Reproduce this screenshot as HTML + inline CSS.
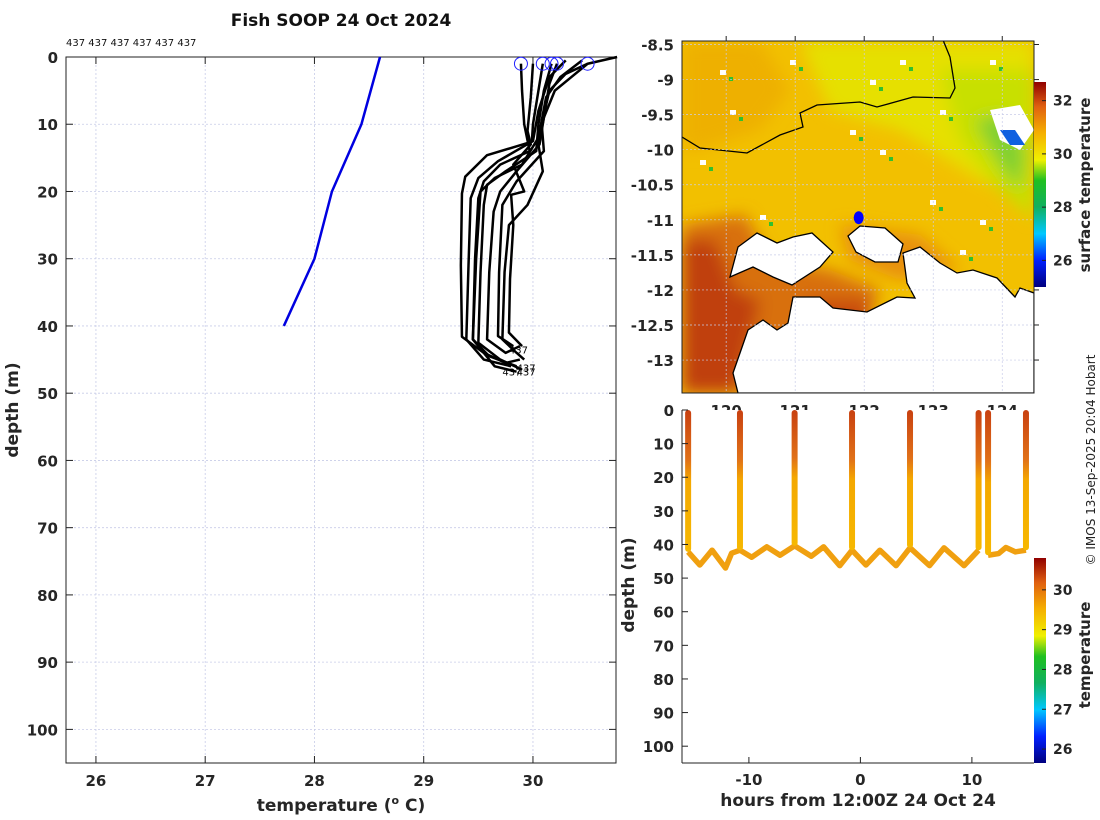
<!DOCTYPE html>
<html><head><meta charset="utf-8"><style>
html,body{margin:0;padding:0;background:#fff;}
svg{display:block;font-family:"DejaVu Sans","Liberation Sans",sans-serif;}
.tk{font-size:15px;font-weight:bold;fill:#262626;}
.al{font-size:17px;font-weight:bold;fill:#262626;}
</style></head><body>
<svg id="s" width="1100" height="820" viewBox="0 0 1100 820">
<defs>
<linearGradient id="jet1" x1="0" y1="1" x2="0" y2="0">
<stop offset="0" stop-color="#00007f"/><stop offset="0.13" stop-color="#0020ff"/><stop offset="0.26" stop-color="#00c8ff"/><stop offset="0.39" stop-color="#10b060"/><stop offset="0.52" stop-color="#20c020"/><stop offset="0.62" stop-color="#f0f000"/><stop offset="0.75" stop-color="#f5b000"/><stop offset="0.88" stop-color="#e06010"/><stop offset="1" stop-color="#900000"/>
</linearGradient>
<linearGradient id="castg" x1="0" y1="0" x2="0" y2="1">
<stop offset="0" stop-color="#c84010"/><stop offset="0.35" stop-color="#e07018"/><stop offset="0.5" stop-color="#f4a800"/><stop offset="1" stop-color="#f6b800"/>
</linearGradient>
<filter id="bl" x="-20%" y="-20%" width="140%" height="140%"><feGaussianBlur stdDeviation="8"/></filter>
<clipPath id="mapclip"><rect x="682" y="41" width="352" height="352"/></clipPath>
</defs>
<text x="341" y="26" text-anchor="middle" style="font-size:17px;font-weight:bold" fill="#111">Fish SOOP 24 Oct 2024</text>
<text x="66" y="46" style="font-size:10px" fill="#111">437 437 437 437 437 437</text>
<g id="left"></g>
<g id="map"></g>
<g id="bot"></g>
<text transform="translate(1095,460) rotate(-90)" text-anchor="middle" style="font-size:12px" fill="#222">© IMOS 13-Sep-2025 20:04 Hobart</text>
</svg>
<script>
// ---------- left profile data ----------
const climTemp=[28.6,28.43,28.16,28.0,27.72];
const climDepth=[0,10,20,30,40];
const profiles=[
[[30.09,1],[30.06,4],[30.0,10],[29.99,12.6],[29.58,14.6],[29.38,17.8],[29.35,20.3],[29.34,31],[29.35,41.6],[29.55,44],[29.75,45.5],[29.88,45]],
[[29.89,1],[29.9,5],[29.92,10],[29.97,14],[29.7,16],[29.55,18.5],[29.5,21],[29.47,30],[29.45,42],[29.6,44.5],[29.85,46]],
[[30.17,1],[30.1,5],[30.05,10],[30.03,14],[29.75,17],[29.58,19],[29.55,22],[29.52,32],[29.5,42.5],[29.7,45],[29.9,46.5]],
[[30.22,1],[30.15,4],[30.1,9],[30.06,13],[29.85,17],[29.7,20],[29.64,23],[29.6,32],[29.58,42],[29.75,44],[29.88,43]],
[[30.5,1],[30.35,3],[30.2,5],[30.1,9],[30.05,13],[30.09,17],[29.95,22],[29.78,25],[29.74,32],[29.72,42],[29.85,44],[29.92,45]],
[[30.77,0],[30.5,1],[30.3,2.5],[30.15,5],[30.08,10],[30.1,14],[29.85,18.5],[29.72,22],[29.69,32],[29.68,41.5],[29.82,43]],
[[30.45,0.5],[30.25,3],[30.12,6],[30.05,12],[29.9,16],[29.65,18],[29.52,20],[29.48,30],[29.45,42],[29.65,46],[29.85,46.8]],
[[30.3,0.5],[30.15,3],[30.05,8],[30.0,12.5],[29.68,15.5],[29.5,18],[29.43,21],[29.41,31],[29.39,42],[29.55,45],[29.8,46]],
[[30.0,1],[29.98,6],[29.95,11],[29.98,13],[29.82,16],[29.92,20],[29.8,20.5],[29.82,25],[29.79,33],[29.78,41],[29.9,43]]
];
const surfTemps=[29.89,30.09,30.17,30.22,30.5];
const leftXTicks=[26,27,28,29,30];
const leftYTicks=[0,10,20,30,40,50,60,70,80,90,100];
// ---------- bottom plot data ----------
const castHours=[-15.45,-10.8,-5.9,-0.75,4.45,10.6,11.45,14.85];
const wiggleHours1=[-15.45,-14.4,-13.3,-12.1,-11.55,-10.8,-9.75,-8.4,-7.2,-5.9,-4.4,-3.3,-1.85,-0.75,0.5,1.75,3.2,4.45,6.2,7.5,9.3,10.6];
const wiggleDepth1=[42.2,46.1,41.7,47,42.6,41.7,43.8,40.7,43.2,40.4,43.5,40.7,46.3,41.7,46.1,41.7,46.3,41,46.3,41,46.3,41.7];
const wiggleHours2=[11.45,12.4,13.05,13.9,14.85];
const wiggleDepth2=[43.2,42.7,40.9,42.2,41.7];
const botXTicks=[-10,0,10];
const botYTicks=[0,10,20,30,40,50,60,70,80,90,100];
// ---------- map axes ----------
const latTicks=[-8.5,-9,-9.5,-10,-10.5,-11,-11.5,-12,-12.5,-13];
const lonTicks=[120,121,122,123,124];
const sstTicks=[26,28,30,32];
const tempTicks=[26,27,28,29,30];
const shipLon=121.92, shipLat=-10.97;

const NS='http://www.w3.org/2000/svg';
function mk(p,tag,at){const e=document.createElementNS(NS,tag);for(const k in at)e.setAttribute(k,at[k]);p.appendChild(e);return e;}

// ===== left plot =====
(function(){
const g=document.getElementById('left');
const X0=66,X1=616,Y0=57,Y1=763,xmin=25.726,xmax=30.76,ymin=0,ymax=105;
const sx=t=>X0+(t-xmin)/(xmax-xmin)*(X1-X0);
const sy=d=>Y0+(d-ymin)/(ymax-ymin)*(Y1-Y0);
leftXTicks.forEach(t=>{
 const l=mk(g,'line',{x1:sx(t),x2:sx(t),y1:Y0,y2:Y1,stroke:'#c8cce8','stroke-width':0.8,'stroke-dasharray':'2,2'});
 
 mk(g,'line',{x1:sx(t),x2:sx(t),y1:Y1,y2:Y1-7,stroke:'#222'});
 mk(g,'line',{x1:sx(t),x2:sx(t),y1:Y0,y2:Y0+7,stroke:'#222'});
 const tx=mk(g,'text',{x:sx(t),y:Y1+23,'text-anchor':'middle',class:'tk'});tx.textContent=t;
 
});
leftYTicks.forEach(d=>{
 const l=mk(g,'line',{x1:X0,x2:X1,y1:sy(d),y2:sy(d),stroke:'#c8cce8','stroke-width':0.8,'stroke-dasharray':'2,2'});
 
 mk(g,'line',{x1:X0,x2:X0+7,y1:sy(d),y2:sy(d),stroke:'#222'});
 mk(g,'line',{x1:X1,x2:X1-7,y1:sy(d),y2:sy(d),stroke:'#222'});
 const tx=mk(g,'text',{x:X0-8,y:sy(d)+6,'text-anchor':'end',class:'tk'});tx.textContent=d;
 
});
const box=mk(g,'rect',{x:X0,y:Y0,width:X1-X0,height:Y1-Y0,fill:'none',stroke:'#222','stroke-width':1});

const cl=mk(g,'polyline',{points:climTemp.map((t,i)=>sx(t)+','+sy(climDepth[i])).join(' '),fill:'none',stroke:'#0000e0','stroke-width':2.5});

profiles.forEach(p=>{
 const pl=mk(g,'polyline',{points:p.map(q=>sx(q[0])+','+sy(q[1])).join(' '),fill:'none',stroke:'#000','stroke-width':2.5,'stroke-linejoin':'round'});
 
});
surfTemps.forEach(t=>{
 const c=mk(g,'circle',{cx:sx(t),cy:sy(1),r:6.5,fill:'none',stroke:'#2020ff','stroke-width':1});
 
});
[[29.78,43.5],[29.85,46.2],[29.72,46.8],[29.85,46.8]].forEach(q=>{
 const tx=mk(g,'text',{x:sx(q[0]),y:sy(q[1])+4,style:'font-size:10px',fill:'#000'});tx.textContent='437';
 
});
const xl=mk(g,'text',{x:341,y:811,'text-anchor':'middle',class:'al'});
xl.innerHTML='temperature (<tspan dy="-7" style="font-size:11px">o</tspan><tspan dy="7"> C)</tspan>';

const yl=mk(g,'text',{transform:'translate(18,410) rotate(-90)','text-anchor':'middle',class:'al'});yl.textContent='depth (m)';

})();

// ===== map =====
(function(){
const g=document.getElementById('map');
const X0=682,X1=1034,Y0=41,Y1=393,lon0=119.36,lon1=124.46,lat0=-8.45,lat1=-13.47;
const sx=v=>X0+(v-lon0)/(lon1-lon0)*(X1-X0);
const sy=v=>Y0+(v-lat0)/(lat1-lat0)*(Y1-Y0);
const c=mk(g,'g',{'clip-path':'url(#mapclip)'});
mk(c,'rect',{x:X0,y:Y0,width:352,height:352,fill:'#f2c000'});
const b=mk(c,'g',{filter:'url(#bl)'});
mk(b,'polygon',{points:'682,41 760,41 790,90 760,130 700,150 682,150',fill:'#eeb000'});
mk(b,'polygon',{points:'800,41 1034,41 1034,200 980,180 900,130 830,110',fill:'#e6e000'});
mk(b,'polygon',{points:'940,70 1034,70 1034,220 1000,190 960,140',fill:'#c8e000'});
mk(b,'polygon',{points:'975,120 1005,115 1025,150 1020,190 1000,165',fill:'#80d030'});
mk(b,'polygon',{points:'682,225 745,215 770,260 830,270 880,290 860,335 800,335 760,393 682,393',fill:'#d87010'});
mk(b,'polygon',{points:'682,240 715,240 735,290 760,300 750,340 735,393 682,393',fill:'#c04010'});
mk(b,'polygon',{points:'805,300 870,300 870,330 805,328',fill:'#c84a10'});
mk(b,'polygon',{points:'840,225 920,235 960,270 900,280 850,260',fill:'#e89010'});
[[700,160],[720,70],[790,60],[870,80],[880,150],[930,200],[760,215],[900,60],[980,220],[730,110],[850,130],[960,250],[940,110],[990,60]].forEach(p=>{
 mk(c,'rect',{x:p[0],y:p[1],width:6,height:5,fill:'#fff'});
 mk(c,'rect',{x:p[0]+9,y:p[1]+7,width:4,height:4,fill:'#30c030'});
});
mk(c,'polygon',{points:'990,110 1020,105 1034,130 1020,150 1000,140',fill:'#fff'});
mk(c,'polygon',{points:'1000,130 1015,130 1025,145 1010,145',fill:'#1060e0'});
const land='738,393 733,373 740,353 748,330 763,320 777,330 788,323 793,297 820,297 833,308 867,312 897,297 915,298 907,283 903,253 920,247 940,263 957,273 973,270 997,278 1015,297 1020,288 1034,293 1034,393';
const l1=mk(c,'polygon',{points:land,fill:'#fff',stroke:'#000','stroke-width':1.3});

mk(c,'polygon',{points:'730,277 738,247 757,233 777,243 793,237 812,233 833,252 820,267 792,285 773,277 753,267',fill:'#fff',stroke:'#000','stroke-width':1.3});
mk(c,'polygon',{points:'848,236 860,226 885,228 903,244 898,262 875,262 856,252',fill:'#fff',stroke:'#000','stroke-width':1.3});
mk(c,'polyline',{points:'682,137 700,148 747,153 780,135 803,127 800,113 817,105 860,102 877,107 913,97 950,98 955,88 950,57 943,40',fill:'none',stroke:'#000','stroke-width':1.3});
latTicks.forEach(v=>{
 mk(g,'line',{x1:X0,x2:X1,y1:sy(v),y2:sy(v),stroke:'#c8cce8','stroke-width':0.7,'stroke-dasharray':'2,2'});
 mk(g,'line',{x1:X1,x2:X1+5,y1:sy(v),y2:sy(v),stroke:'#222'});
 const t=mk(g,'text',{x:X0-8,y:sy(v)+6,'text-anchor':'end',class:'tk'});t.textContent=v;
 
});
lonTicks.forEach(v=>{
 mk(g,'line',{x1:sx(v),x2:sx(v),y1:Y0,y2:Y1,stroke:'#c8cce8','stroke-width':0.7,'stroke-dasharray':'2,2'});
 mk(g,'line',{x1:sx(v),x2:sx(v),y1:Y0,y2:Y0-5,stroke:'#222'});
 const t=mk(g,'text',{x:sx(v),y:416,'text-anchor':'middle',class:'tk'});t.textContent=v;
 
});
mk(g,'rect',{x:X0,y:Y0,width:352,height:352,fill:'none',stroke:'#222'});
const sh=mk(g,'ellipse',{cx:sx(shipLon),cy:sy(shipLat),rx:5,ry:6.5,fill:'#0000ff'});

const cb=mk(g,'rect',{x:1034,y:82,width:12,height:205,fill:'url(#jet1)'});

const cy=v=>287-(v-25)/(32.7-25)*205;
sstTicks.forEach(v=>{
 mk(g,'line',{x1:1046,x2:1042,y1:cy(v),y2:cy(v),stroke:'#222'});
 const t=mk(g,'text',{x:1053,y:cy(v)+5,class:'tk',style:'font-size:14px'});t.textContent=v;
 
});
const ct=mk(g,'text',{transform:'translate(1090,185) rotate(-90)','text-anchor':'middle',class:'al',style:'font-size:15px'});ct.textContent='surface temperature';

})();

// ===== bottom plot =====
(function(){
const g=document.getElementById('bot');
const X0=682,X1=1034,Y0=410,Y1=763,xmin=-16,xmax=15.57,ymin=0,ymax=105;
const sx=h=>X0+(h-xmin)/(xmax-xmin)*(X1-X0);
const sy=d=>Y0+(d-ymin)/(ymax-ymin)*(Y1-Y0);
mk(g,'rect',{x:X0,y:Y0,width:X1-X0,height:Y1-Y0,fill:'#fff'});
const w1=mk(g,'polyline',{points:wiggleHours1.map((h,i)=>sx(h)+','+sy(wiggleDepth1[i])).join(' '),fill:'none',stroke:'#f0a010','stroke-width':5.5,'stroke-linejoin':'round'});

const w2=mk(g,'polyline',{points:wiggleHours2.map((h,i)=>sx(h)+','+sy(wiggleDepth2[i])).join(' '),fill:'none',stroke:'#f0a010','stroke-width':5.5,'stroke-linejoin':'round'});

castHours.forEach((h,i)=>{
 const bd = (i<6? wiggleDepth1[wiggleHours1.indexOf(h)] : wiggleDepth2[wiggleHours2.indexOf(h)]);
 const r=mk(g,'rect',{x:sx(h)-3,y:sy(0),width:6,height:sy(bd)-sy(0),fill:'url(#castg)',rx:3});
 
});
mk(g,'line',{x1:X0,x2:X0,y1:Y0,y2:Y1,stroke:'#222'});
mk(g,'line',{x1:X0,x2:X1,y1:Y1,y2:Y1,stroke:'#222'});
botYTicks.forEach(d=>{
 mk(g,'line',{x1:X0,x2:X0+6,y1:sy(d),y2:sy(d),stroke:'#222'});
 const t=mk(g,'text',{x:X0-8,y:sy(d)+6,'text-anchor':'end',class:'tk'});t.textContent=d;
 
});
botXTicks.forEach(h=>{
 mk(g,'line',{x1:sx(h),x2:sx(h),y1:Y1,y2:Y1-6,stroke:'#222'});
 const t=mk(g,'text',{x:sx(h),y:Y1+22,'text-anchor':'middle',class:'tk'});t.textContent=h;
 
});
const xl=mk(g,'text',{x:858,y:806,'text-anchor':'middle',class:'al'});xl.textContent='hours from 12:00Z 24 Oct 24';

const yl=mk(g,'text',{transform:'translate(634,585) rotate(-90)','text-anchor':'middle',class:'al'});yl.textContent='depth (m)';

const cb=mk(g,'rect',{x:1034,y:558,width:12,height:205,fill:'url(#jet1)'});

const cy=v=>763-(v-25.65)/(30.8-25.65)*205;
tempTicks.forEach(v=>{
 mk(g,'line',{x1:1046,x2:1042,y1:cy(v),y2:cy(v),stroke:'#222'});
 const t=mk(g,'text',{x:1053,y:cy(v)+5,class:'tk',style:'font-size:14px'});t.textContent=v;
 
});
const ct=mk(g,'text',{transform:'translate(1090,655) rotate(-90)','text-anchor':'middle',class:'al',style:'font-size:15px'});ct.textContent='temperature';

})();
</script>
</body></html>
